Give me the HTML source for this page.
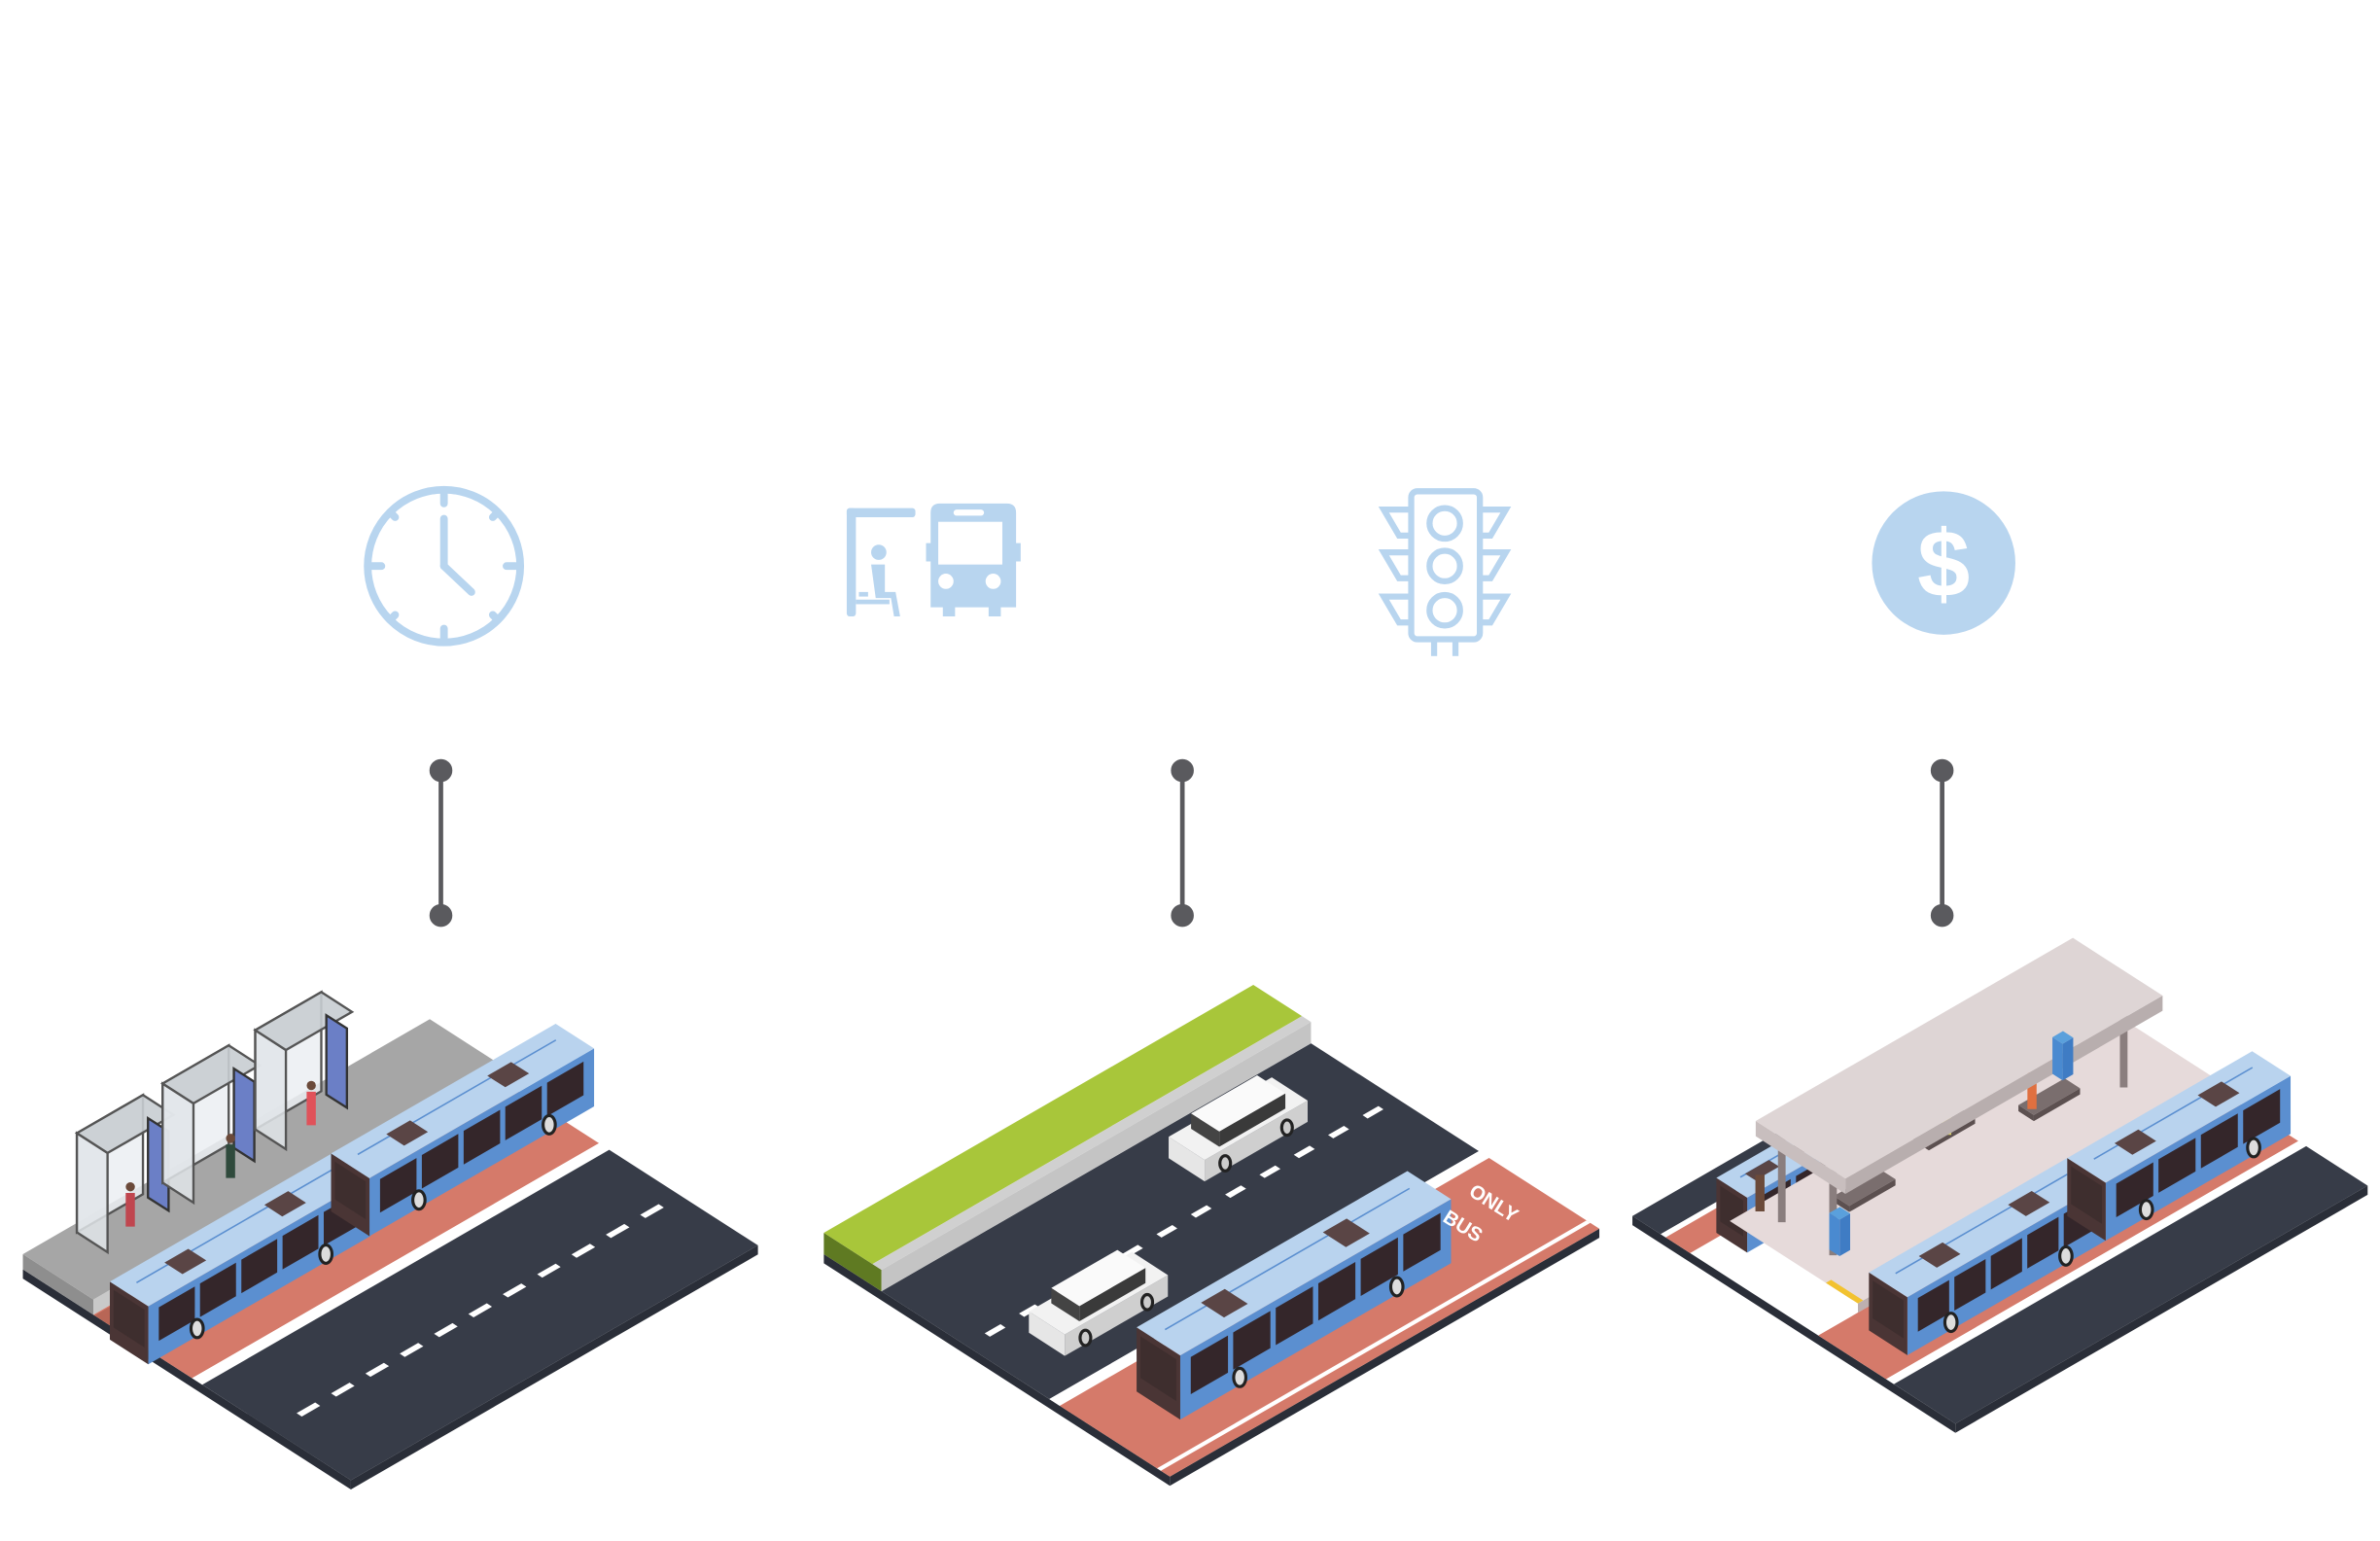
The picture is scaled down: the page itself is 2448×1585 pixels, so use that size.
<!DOCTYPE html>
<html><head><meta charset="utf-8"><style>
html,body{margin:0;padding:0;background:#fff;}
svg{display:block;}
</style></head><body>
<svg id="s" xmlns="http://www.w3.org/2000/svg" width="2448" height="1585" viewBox="0 0 1560 1010" preserveAspectRatio="none">
<rect width="1560" height="1010" fill="#fff"/>
<g fill="none" stroke="#b8d5ef" stroke-width="5" stroke-linecap="round">
 <circle cx="291" cy="371" r="50"/>
 <line x1="291" y1="340" x2="291" y2="371"/><line x1="291" y1="371" x2="309" y2="388"/>
 <line x1="291" y1="324" x2="291" y2="330"/><line x1="291" y1="412" x2="291" y2="418"/>
 <line x1="244" y1="371" x2="250" y2="371"/><line x1="332" y1="371" x2="338" y2="371"/>
 <line x1="256" y1="336" x2="259" y2="339"/><line x1="326" y1="336" x2="323" y2="339"/>
 <line x1="256" y1="406" x2="259" y2="403"/><line x1="326" y1="406" x2="323" y2="403"/>
</g>
<g fill="#b8d5ef">
 <rect x="555" y="333" width="45" height="6" rx="2"/><rect x="555" y="333" width="6" height="71" rx="2"/>
 <circle cx="576" cy="362" r="5"/><path d="M571 370h9v18h7l3 16h-4l-2-12h-10z"/><rect x="563" y="388" width="6" height="3"/><rect x="561" y="393" width="22" height="3"/>
 <path d="M612 330h48q6 0 6 6v20h3v12h-3v30h-10v6h-8v-6h-22v6h-8v-6h-8v-30h-3v-12h3v-20q0-6 6-6z"/>
 <rect x="615" y="342" width="42" height="28" fill="#fff"/><rect x="625" y="334" width="20" height="4" fill="#fff" rx="2"/>
 <circle cx="620" cy="381" r="5" fill="#fff"/><circle cx="651" cy="381" r="5" fill="#fff"/>
</g>
<g fill="none" stroke="#b8d5ef" stroke-width="4">
 <rect x="925" y="322" width="45" height="97" rx="4"/>
 <circle cx="947" cy="343" r="10"/><circle cx="947" cy="371" r="10"/><circle cx="947" cy="400" r="10"/>
 <path d="M924 334h-17l10 17h7M970 334h17l-10 17h-7M924 362h-17l10 17h7M970 362h17l-10 17h-7M924 391h-17l10 17h7M970 391h17l-10 17h-7"/>
 <line x1="940" y1="419" x2="940" y2="430"/><line x1="954" y1="419" x2="954" y2="430"/>
</g>
<circle cx="1274" cy="369" r="47" fill="#b8d5ef"/>
<text x="1274" y="391" font-family="Liberation Sans, sans-serif" font-weight="bold" font-size="62" fill="#fff" text-anchor="middle">$</text>
<g stroke="#5a5a5e" stroke-width="3" fill="#5a5a5e">
 <line x1="289" y1="505" x2="289" y2="600"/><circle cx="289" cy="505" r="6"/><circle cx="289" cy="600" r="6"/>
 <line x1="775" y1="505" x2="775" y2="600"/><circle cx="775" cy="505" r="6"/><circle cx="775" cy="600" r="6"/>
 <line x1="1273" y1="505" x2="1273" y2="600"/><circle cx="1273" cy="505" r="6"/><circle cx="1273" cy="600" r="6"/>
</g>
<g id="scenes"></g>
<text x="0" y="0" font-family="Liberation Sans, sans-serif" font-weight="bold" font-size="13" fill="#fff" transform="translate(962,783) rotate(32)">ONLY</text>
<text x="0" y="0" font-family="Liberation Sans, sans-serif" font-weight="bold" font-size="13" fill="#fff" transform="translate(945,800) rotate(32)">BUS</text>
</svg>
<script>
var G=document.getElementById('scenes');var NS='http://www.w3.org/2000/svg';
var AX=[0.866,-0.5],PX=[0.84,0.54];
function pt(o,u,v,h){return [o[0]+AX[0]*u+PX[0]*v,o[1]+AX[1]*u+PX[1]*v-(h||0)];}
function poly(ps,fill,extra){var e=document.createElementNS(NS,'polygon');e.setAttribute('points',ps.map(function(p){return p[0].toFixed(1)+','+p[1].toFixed(1)}).join(' '));e.setAttribute('fill',fill);if(extra)for(var k in extra)e.setAttribute(k,extra[k]);G.appendChild(e);return e;}
function quad(o,u0,u1,v0,v1,h,fill,ex){h=h||0;return poly([pt(o,u0,v0,h),pt(o,u1,v0,h),pt(o,u1,v1,h),pt(o,u0,v1,h)],fill,ex);}
function sideV(o,u0,u1,v,h0,h1,fill,ex){return poly([pt(o,u0,v,h0),pt(o,u1,v,h0),pt(o,u1,v,h1),pt(o,u0,v,h1)],fill,ex);}
function sideU(o,u,v0,v1,h0,h1,fill,ex){return poly([pt(o,u,v0,h0),pt(o,u,v1,h0),pt(o,u,v1,h1),pt(o,u,v0,h1)],fill,ex);}
function box(o,u0,u1,v0,v1,h0,h1,top,side,end){sideV(o,u0,u1,v1,h0,h1,side);sideU(o,u0,v0,v1,h0,h1,end);quad(o,u0,u1,v0,v1,h1,top);}
function line(a,b,c,w){var l=document.createElementNS(NS,'line');l.setAttribute('x1',a[0]);l.setAttribute('y1',a[1]);l.setAttribute('x2',b[0]);l.setAttribute('y2',b[1]);l.setAttribute('stroke',c);l.setAttribute('stroke-width',w);G.appendChild(l);}
function bus(o,u0,L,v0,W,H){
 box(o,u0,u0+L,v0,v0+W,0,H,'#b9d3ee','#5b8fd0','#4a3535');
 var n=Math.floor(L/30);for(var i=0;i<n;i++){var a=u0+8+i*(L-12)/n;sideV(o,a,a+(L-12)/n-4,v0+W,H*0.3,H*0.88,'#34262a');}
 sideU(o,u0,v0+3,v0+W-3,H*0.25,H*0.9,'#3e2e2e');
 line(pt(o,u0+10,v0+W*0.35,H),pt(o,u0+L-10,v0+W*0.35,H),'#5b8fd0',1);
 quad(o,u0+L*0.2,u0+L*0.2+18,v0+8,v0+W-8,H,'#5a4545');quad(o,u0+L*0.65,u0+L*0.65+18,v0+8,v0+W-8,H,'#5a4545');
 [0.22,0.8].forEach(function(f){var c=pt(o,u0+L*f,v0+W,5);var e=document.createElementNS(NS,'ellipse');e.setAttribute('cx',c[0]);e.setAttribute('cy',c[1]);e.setAttribute('rx',4);e.setAttribute('ry',6);e.setAttribute('fill','#ddd');e.setAttribute('stroke','#222');e.setAttribute('stroke-width','2');G.appendChild(e);});
}
function car(o,u0,L,v0,W){box(o,u0,u0+L,v0,v0+W,0,14,'#f2f2f2','#cfcfcf','#e6e6e6');box(o,u0+14,u0+L-14,v0+3,v0+W-3,14,24,'#fafafa','#3a3a3a','#444');
 [0.2,0.8].forEach(function(f){var c=pt(o,u0+L*f,v0+W,4);var e=document.createElementNS(NS,'ellipse');e.setAttribute('cx',c[0]);e.setAttribute('cy',c[1]);e.setAttribute('rx',3.5);e.setAttribute('ry',5);e.setAttribute('fill','#ccc');e.setAttribute('stroke','#222');e.setAttribute('stroke-width','2');G.appendChild(e);});}
function dashes(o,u0,u1,v,len,gap){for(var u=u0;u<u1;u+=len+gap)quad(o,u,u+len,v-2,v+2,0,'#fff');}

// Scene 1
var o1=[15,832];
sideU(o1,0,0,256,-6,0,'#2a2e38');sideV(o1,0,308,256,-6,0,'#2a2e38');
quad(o1,0,308,55,132,0,'#d57a6a');quad(o1,0,308,132,140,0,'#fff');quad(o1,0,308,140,256,0,'#373c48');
quad(o1,0,308,56,75,0,'#b86656');
dashes(o1,20,295,195,14,12);
sideU(o1,0,0,55,0,10,'#8e8e8e');sideV(o1,0,308,55,0,10,'#c9c9c9');quad(o1,0,308,0,55,10,'#a6a6a6');
[[35,85],[100,150],[170,220]].forEach(function(s){
 sideV(o1,s[0],s[1],6,10,75,'rgba(235,238,242,0.85)',{stroke:'#555','stroke-width':1.5});
 sideU(o1,s[0],6,30,10,75,'rgba(225,229,233,0.85)',{stroke:'#555','stroke-width':1.5});
 quad(o1,s[0],s[1],6,30,75,'rgba(200,205,210,0.9)',{stroke:'#555','stroke-width':1.5});
 sideU(o1,s[1],10,26,10,62,'#6b7fc6',{stroke:'#333','stroke-width':1.5});
});
[[60,22,'#c0464f'],[130,28,'#2f4a3c'],[195,24,'#e0525a']].forEach(function(p){var a=pt(o1,p[0],p[1],10);poly([[a[0]-3,a[1]],[a[0]+3,a[1]],[a[0]+3,a[1]-22],[a[0]-3,a[1]-22]],p[2]);var c=document.createElementNS(NS,'circle');c.setAttribute('cx',a[0]);c.setAttribute('cy',a[1]-26);c.setAttribute('r',3);c.setAttribute('fill','#6b4a3a');G.appendChild(c);});
bus([72,878],0,168,0,30,38);bus([217,794],0,170,0,30,38);

// Scene 2
var o2=[540,822];
sideU(o2,0,0,270,-6,0,'#2a2e38');sideV(o2,0,325,270,-6,0,'#2a2e38');
quad(o2,0,325,45,176,0,'#373c48');quad(o2,0,325,176,184,0,'#fff');quad(o2,0,325,184,270,0,'#d57a6a');quad(o2,0,325,260,263,0,'#fff');
dashes(o2,15,310,112,12,14);
sideU(o2,0,0,45,0,14,'#5f7a22');sideV(o2,0,325,45,0,14,'#c4c4c4');quad(o2,0,325,0,38,14,'#a8c63a');quad(o2,0,325,38,45,14,'#d0d0d0');
car(o2,197,78,66,28);car(o2,33,78,126,28);
bus([745,912],0,205,0,34,42);

// Scene 3
var o3=[1070,797];
sideU(o3,0,0,252,-6,0,'#2a2e38');sideV(o3,0,312,252,-6,0,'#2a2e38');
quad(o3,0,312,0,22,0,'#373c48');quad(o3,0,312,22,26,0,'#fff');quad(o3,0,312,26,45,0,'#d57a6a');
quad(o3,0,312,145,198,0,'#d57a6a');quad(o3,0,312,198,204,0,'#fff');quad(o3,0,312,204,252,0,'#373c48');
bus([1125,808],0,70,0,24,36);
sideV(o3,30,312,145,0,6,'#bdb0b0');quad(o3,30,312,45,145,6,'#e6dada');
quad(o3,30,34,120,145,6,'#f2c230');
bus([1225,872],0,150,0,30,38);bus([1355,797],0,140,0,30,38);
[[70,85],[140,75],[200,95]].forEach(function(b){box(o3,b[0],b[0]+35,b[1],b[1]+12,20,24,'#7a6e6e','#5c5050','#5c5050');});
[[48,50,'#6b4a3a'],[170,70,'#d8d060'],[220,85,'#e07040']].forEach(function(p){var a=pt(o3,p[0],p[1],6);poly([[a[0]-3,a[1]],[a[0]+3,a[1]],[a[0]+3,a[1]-24],[a[0]-3,a[1]-24]],p[2]);});
[[50,105],[270,105],[50,65],[270,65]].forEach(function(c){line(pt(o3,c[0],c[1],6),pt(o3,c[0],c[1],62),'#8a7e7e',5);});
box(o3,40,280,55,125,62,72,'#ded5d5','#b8aeae','#c8bebe');
box(o3,52,60,100,108,6,30,'#5aa0dc','#3f7cc4','#4a8ad0');box(o3,250,258,70,78,6,30,'#5aa0dc','#3f7cc4','#4a8ad0');
</script>
</body></html>
